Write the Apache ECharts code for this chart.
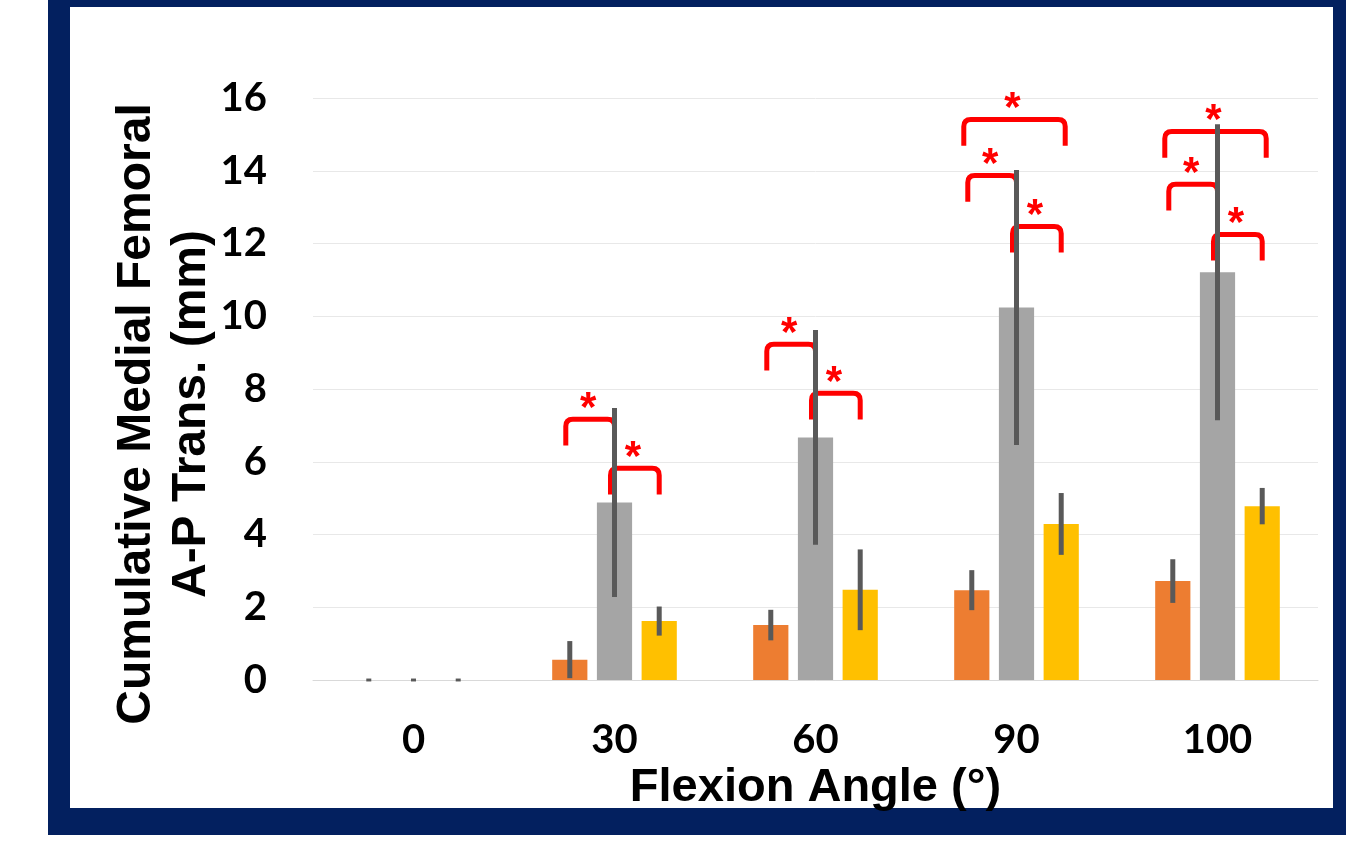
<!DOCTYPE html>
<html>
<head>
<meta charset="utf-8">
<script src="https://cdn.jsdelivr.net/npm/echarts@6/dist/echarts.min.js"></script>
<style>
  html, body { margin: 0; padding: 0; background: #ffffff; }
  #frame { position: absolute; left: 48px; top: 0px; width: 1298px; height: 835px; background: #03205f; }
  #inner { position: absolute; left: 70px; top: 7px; width: 1263px; height: 801px; background: #ffffff; }
  #chart { position: absolute; left: 0; top: 0; width: 1346px; height: 846px; }
</style>
</head>
<body>
<div id="frame"></div>
<div id="inner"></div>
<div id="chart"></div>
<script>
// ---- data ----
const categories = ['0', '30', '60', '90', '100'];
const orangeValues = [0, 0.56, 1.51, 2.47, 2.72];
const orangeErrors = [0.04, 0.51, 0.42, 0.55, 0.6];
const grayValues = [0, 4.88, 6.67, 10.24, 11.21];
const grayErrors = [0.04, 2.6, 2.95, 3.78, 4.07];
const yellowValues = [0, 1.62, 2.48, 4.29, 4.78];
const yellowErrors = [0.04, 0.4, 1.11, 0.85, 0.5];
const yTicks = [0, 2, 4, 6, 8, 10, 12, 14, 16];
// significance brackets: [category index, from series, to series, bracket top value]
const brackets = [
  [1, 0, 1, 7.17], [1, 1, 2, 5.82],
  [2, 0, 1, 9.23], [2, 1, 2, 7.88],
  [3, 0, 2, 15.41], [3, 0, 1, 13.87], [3, 1, 2, 12.47],
  [4, 0, 2, 15.08], [4, 0, 1, 13.63], [4, 1, 2, 12.25]
];
const bracketDrop = 0.72;
const bracketLabel = '*';

// ---- layout constants ----
const CAT_GAP = 0.38;
const BAR_GAP = 0.27;
const N_SERIES = 3;
function barOffset(api, idx) {
  const cw = api.size([1, 0])[0];
  const bw = cw * (1 - CAT_GAP) / (N_SERIES + (N_SERIES - 1) * BAR_GAP);
  return (idx - (N_SERIES - 1) / 2) * bw * (1 + BAR_GAP);
}

const errData = [];
[[orangeValues, orangeErrors], [grayValues, grayErrors], [yellowValues, yellowErrors]].forEach((pair, s) => {
  pair[0].forEach((v, i) => errData.push([i, v - pair[1][i], v + pair[1][i], s]));
});

const chart = echarts.init(document.getElementById('chart'));
const tickFont = 'Lato, "Open Sans", sans-serif';
const titleFont = '"Liberation Sans", Arial, sans-serif';

chart.setOption({
  animation: false,
  grid: { left: 313, right: 28, top: 98, bottom: 166 },
  xAxis: {
    type: 'category',
    data: categories,
    axisLine: { lineStyle: { color: '#d9d9d9', width: 1 } },
    axisTick: { show: false },
    axisLabel: { interval: 0, margin: 40, color: '#000', fontFamily: tickFont, fontWeight: 'bold', fontSize: 40 },
    name: 'Flexion Angle (°)',
    nameLocation: 'middle',
    nameGap: 76,
    nameTextStyle: { color: '#000', fontFamily: titleFont, fontWeight: 'bold', fontSize: 47 }
  },
  yAxis: {
    type: 'value',
    min: yTicks[0],
    max: yTicks[yTicks.length - 1],
    interval: yTicks[1] - yTicks[0],
    axisLine: { show: false },
    axisTick: { show: false },
    splitLine: { lineStyle: { color: '#e8e8e8', width: 1 } },
    axisLabel: { margin: 46, color: '#000', fontFamily: tickFont, fontWeight: 'bold', fontSize: 40 }
  },
  graphic: [{
    type: 'text',
    x: 164, y: 414,
    rotation: Math.PI / 2,
    style: {
      text: 'Cumulative Medial Femoral\nA-P Trans. (mm)',
      align: 'center', verticalAlign: 'middle',
      lineHeight: 55,
      fill: '#000',
      font: 'bold 48px "Liberation Sans", Arial, sans-serif'
    }
  }],
  series: [
    { type: 'bar', data: orangeValues, itemStyle: { color: '#ed7d31' }, barGap: (BAR_GAP * 100) + '%', barCategoryGap: (CAT_GAP * 100) + '%' },
    { type: 'bar', data: grayValues, itemStyle: { color: '#a5a5a5' } },
    { type: 'bar', data: yellowValues, itemStyle: { color: '#ffc000' } },
    {
      type: 'custom',
      data: errData,
      encode: { x: 0, y: [1, 2] },
      z: 5,
      renderItem: function (params, api) {
        const i = api.value(0);
        const s = api.value(3);
        const lo = api.coord([i, api.value(1)]);
        const hi = api.coord([i, api.value(2)]);
        const x = lo[0] + barOffset(api, s);
        return {
          type: 'line',
          shape: { x1: x, y1: lo[1], x2: x, y2: hi[1] },
          style: { stroke: '#595959', lineWidth: 5, lineCap: 'butt' }
        };
      }
    },
    {
      type: 'custom',
      data: brackets,
      encode: { x: 0, y: 3 },
      z: 4,
      renderItem: function (params, api) {
        const i = api.value(0);
        const from = api.value(1), to = api.value(2);
        const wide = (to - from) > 1 ? 4 : 0;
        const top = api.coord([i, api.value(3)]);
        const bot = api.coord([i, api.value(3) - bracketDrop]);
        const xl = top[0] + barOffset(api, from) - 4 - wide;
        const xr = top[0] + barOffset(api, to) + wide;
        const yt = top[1], yb = bot[1], r = 7;
        const path = 'M' + xl + ' ' + yb + ' L' + xl + ' ' + (yt + r) +
          ' Q' + xl + ' ' + yt + ' ' + (xl + r) + ' ' + yt +
          ' L' + (xr - r) + ' ' + yt +
          ' Q' + xr + ' ' + yt + ' ' + xr + ' ' + (yt + r) +
          ' L' + xr + ' ' + yb;
        return {
          type: 'group',
          children: [
            { type: 'path', shape: { pathData: path }, style: { stroke: '#ff0000', lineWidth: 5, fill: null } },
            { type: 'text', x: (xl + xr) / 2 - 2, y: yt - 10,
              style: { text: bracketLabel, align: 'center', verticalAlign: 'middle', fill: '#ff0000',
                       font: 'bold 42px "Liberation Sans", Arial, sans-serif' } }
          ]
        };
      }
    }
  ]
});
</script>
</body>
</html>
